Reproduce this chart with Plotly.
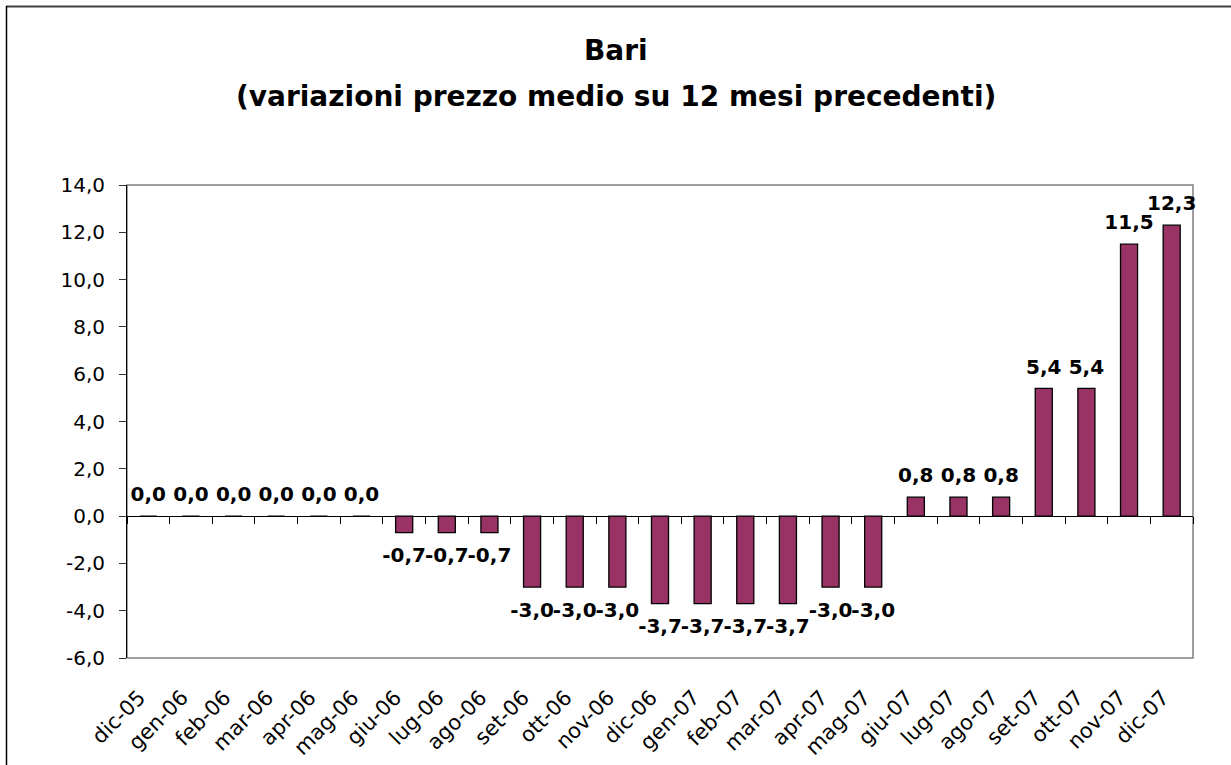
import plotly.graph_objects as go

months = ["dic-05", "gen-06", "feb-06", "mar-06", "apr-06", "mag-06", "giu-06", "lug-06",
          "ago-06", "set-06", "ott-06", "nov-06", "dic-06", "gen-07", "feb-07", "mar-07",
          "apr-07", "mag-07", "giu-07", "lug-07", "ago-07", "set-07", "ott-07", "nov-07", "dic-07"]
values = [0.0, 0.0, 0.0, 0.0, 0.0, 0.0, -0.7, -0.7, -0.7, -3.0, -3.0, -3.0, -3.7, -3.7, -3.7, -3.7,
          -3.0, -3.0, 0.8, 0.8, 0.8, 5.4, 5.4, 11.5, 12.3]
y_ticks = [-6, -4, -2, 0, 2, 4, 6, 8, 10, 12, 14]
title_line1 = "Bari"
title_line2 = "(variazioni prezzo medio su 12 mesi precedenti)"

W, H = 1231, 765
ML, MR, MT, MB = 127, 38, 185, 107
PW, PH = W - ML - MR, H - MT - MB
YMIN, YMAX = -6, 14
FONT = "DejaVu Sans"


def fmt(v):
    return f"{v:.1f}".replace(".", ",")


def px_x(p):
    return (p - ML) / PW


def px_y(p):
    return (H - MB - p) / PH


fig = go.Figure()
fig.add_trace(go.Bar(
    x=months, y=values, width=0.4,
    marker=dict(color="#993366", line=dict(color="#000000", width=1.3)),
    hoverinfo="x+y", showlegend=False,
))
fig.add_trace(go.Scatter(
    x=months, y=values, xaxis="x2", yaxis="y",
    mode="markers+text",
    marker=dict(size=[14 if v >= 0 else 22 for v in values], color="rgba(0,0,0,0)",
                line=dict(width=0)),
    text=[fmt(v) for v in values],
    textposition=["top center" if v >= 0 else "bottom center" for v in values],
    textfont=dict(family=FONT, size=20, color="#000000", weight="bold"),
    cliponaxis=False, showlegend=False, hoverinfo="skip",
))

fig.update_layout(
    width=W, height=H,
    margin=dict(l=ML, r=MR, t=MT, b=MB, pad=0, autoexpand=False),
    paper_bgcolor="#ffffff", plot_bgcolor="#ffffff",
    separators=",.",
    font=dict(family=FONT, color="#000000"),
    xaxis=dict(
        type="category", categoryorder="array", categoryarray=months,
        range=[-0.5, len(months) - 0.5], automargin=False,
        showgrid=False, zeroline=False, showline=False, ticks="",
        tickangle=-45, tickfont=dict(family=FONT, size=21, color="#000000"),
        ticklabelstandoff=22, ticklabelshift=-9,
    ),
    xaxis2=dict(
        type="category", categoryorder="array", categoryarray=months,
        overlaying="x", anchor="free", position=(0 - YMIN) / (YMAX - YMIN), side="bottom",
        range=[-0.5, len(months) - 0.5], automargin=False,
        showgrid=False, zeroline=False, showline=False, showticklabels=False,
        ticks="outside", tickson="boundaries", ticklen=7, tickwidth=1, tickcolor="#000000",
    ),
    yaxis=dict(
        range=[YMIN, YMAX], tickmode="array", tickvals=y_ticks, automargin=False,
        ticktext=[fmt(v) for v in y_ticks],
        showgrid=False, zeroline=True, zerolinecolor="#000000", zerolinewidth=1,
        showline=True, linecolor="#000000", linewidth=1,
        ticks="outside", ticklen=7, tickcolor="#333333",
        tickfont=dict(family=FONT, size=20, color="#000000"),
        ticklabelstandoff=10,
    ),
    shapes=[
        dict(type="rect", xref="paper", yref="paper", x0=0, x1=1, y0=0, y1=1,
             line=dict(color="#808080", width=1.5), layer="below"),
        dict(type="line", xref="paper", yref="paper", x0=px_x(6), x1=px_x(W + 20),
             y0=px_y(6.5), y1=px_y(6.5), line=dict(color="#404040", width=2)),
        dict(type="line", xref="paper", yref="paper", x0=px_x(6.5), x1=px_x(6.5),
             y0=px_y(6), y1=px_y(H + 20), line=dict(color="#000000", width=1.5)),
    ],
    annotations=[
        dict(text=f"<b>{title_line1}</b>", xref="paper", yref="paper",
             x=px_x(615.5), y=px_y(50), xanchor="center", yanchor="middle", showarrow=False,
             font=dict(family=FONT, size=28, color="#000000")),
        dict(text=f"<b>{title_line2}</b>", xref="paper", yref="paper",
             x=px_x(615.5), y=px_y(97), xanchor="center", yanchor="middle", showarrow=False,
             font=dict(family=FONT, size=28, color="#000000")),
    ],
)

fig.write_html("out.html", config={"displayModeBar": False},
               post_script="document.body.style.margin='0';")
